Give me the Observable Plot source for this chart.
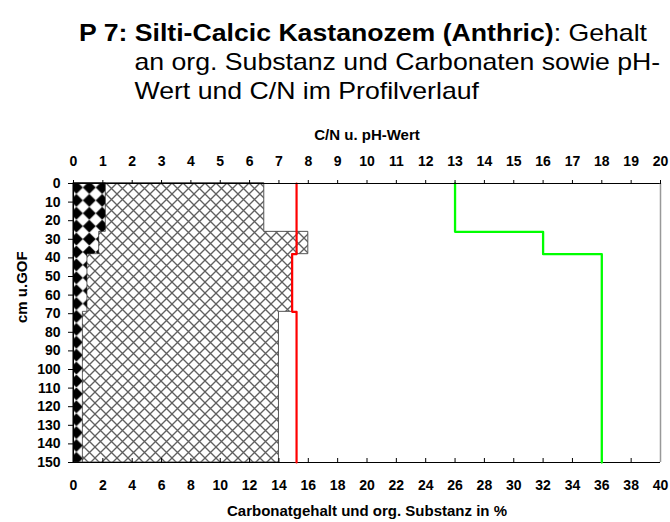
<!DOCTYPE html>
<html><head><meta charset="utf-8">
<script src="https://cdn.jsdelivr.net/npm/d3@7"></script>
<script src="https://cdn.jsdelivr.net/npm/@observablehq/plot@0.6"></script>
<style>
body{margin:0;background:#fff;}
#wrap{position:relative;width:670px;height:522px;overflow:hidden;font-family:"Liberation Sans",Arial,sans-serif;}
#title{position:absolute;left:79px;top:18px;transform:scaleX(1.11);transform-origin:0 0;font-size:24px;line-height:29px;white-space:nowrap;color:#000;}
#title .ind{padding-left:50px}
.layer{position:absolute;left:0;top:120px;}
</style></head><body>
<div id="wrap">
<div id="title"><div><b>P 7: Silti-Calcic Kastanozem (Anthric)</b>: Gehalt</div><div class="ind">an org. Substanz und Carbonaten sowie pH-</div><div class="ind">Wert und C/N im Profilverlauf</div></div>
<svg width="0" height="0" style="position:absolute;left:0;top:0"><defs>
<pattern id="cross" patternUnits="userSpaceOnUse" width="11" height="11" x="73" y="63">
<rect width="11" height="11" fill="#fff"/>
<path d="M-1,-1L12,12M12,-1L-1,12" stroke="#606060" stroke-width="1.35" fill="none"/>
</pattern>
<pattern id="diamond" patternUnits="userSpaceOnUse" width="12.9" height="12.9" x="76.4" y="67.5">
<rect width="12.9" height="12.9" fill="#000"/>
<path d="M6.45,0L12.9,6.45L6.45,12.9L0,6.45Z" fill="#fff"/>
</pattern>
</defs></svg>
<div id="bottom" class="layer"></div>
<div id="top" class="layer"></div>
</div>
<script>
// Horizons (cm u. GOF)
const horizonTop = [0, 26, 38, 69];
const horizonBottom = [26, 38, 69, 150];
// Carbonatgehalt + org. Substanz (outer edge of hatched area), %
const carbonat = [13.0, 16.0, 14.9, 14.0];
// org. Substanz, %
const orgSubstanz = [2.2, 1.75, 0.95, 0.64];
// pH-Wert
const pH = [7.6, 7.6, 7.45, 7.6];
// C/N
const cn = [13, 16, 18, 18];
// tick labels
const depthTicks = [0,10,20,30,40,50,60,70,80,90,100,110,120,130,140,150];
const percentTicks = [0,2,4,6,8,10,12,14,16,18,20,22,24,26,28,30,32,34,36,38,40];
const topTicks = [0,1,2,3,4,5,6,7,8,9,10,11,12,13,14,15,16,17,18,19,20];
const labelTop = "C/N u. pH-Wert";
const labelBottom = "Carbonatgehalt und org. Substanz in %";
const labelY = "cm u.GOF";

function steps(values) {
  const out = [];
  values.forEach((v, i) => { out.push({x: v, y: horizonTop[i]}, {x: v, y: horizonBottom[i]}); });
  return out;
}

const W = 670, H = 402;
const M = {marginTop: 63, marginBottom: 60, marginLeft: 73, marginRight: 10};
const font = {fontFamily: "Liberation Sans, Arial, sans-serif", fontSize: "14px", background: "transparent", color: "#000"};

const yScale = {domain: [depthTicks[0], depthTicks[depthTicks.length - 1]], reverse: true};

const bottomPlot = Plot.plot({
  width: W, height: H, ...M, style: font,
  x: {domain: [percentTicks[0], percentTicks[percentTicks.length - 1]]},
  y: yScale,
  marks: [
    Plot.areaX(steps(carbonat), {x1: d => 0, x2: "x", y: "y", fill: "url(#cross)", stroke: "#555", strokeWidth: 1}),
    Plot.areaX(steps(orgSubstanz), {x1: d => 0, x2: "x", y: "y", fill: "url(#diamond)", stroke: "#222", strokeWidth: 0.7}),
    Plot.ruleX([percentTicks[0]], {stroke: "#000"}),
    Plot.ruleY([depthTicks[depthTicks.length - 1]], {stroke: "#000"}),
    Plot.axisY(depthTicks, {anchor: "left", tickSize: 5, tickPadding: 8, fontSize: 14, fontWeight: "bold", label: null}),
    Plot.axisX(percentTicks, {anchor: "bottom", tickSize: -4, tickPadding: 22, fontSize: 14, fontWeight: "bold", label: null}),
    Plot.text([labelBottom], {frameAnchor: "bottom", dy: 53, lineAnchor: "bottom", fontSize: 15, fontWeight: "bold"}),
    Plot.text([labelY], {frameAnchor: "left", dx: -51, rotate: -90, lineAnchor: "middle", fontSize: 15, fontWeight: "bold"})
  ]
});

const topPlot = Plot.plot({
  width: W, height: H, ...M, style: font,
  x: {domain: [topTicks[0], topTicks[topTicks.length - 1]]},
  y: {...yScale, axis: null},
  marks: [
    Plot.line(steps(pH), {x: "x", y: "y", stroke: "#ff0000", strokeWidth: 2.2}),
    Plot.line(steps(cn), {x: "x", y: "y", stroke: "#00ff00", strokeWidth: 2.3}),
    Plot.ruleY([depthTicks[0]], {stroke: "#000"}),
    Plot.ruleX([topTicks[topTicks.length - 1]], {stroke: "#999", strokeWidth: 1.5}),
    Plot.axisX(topTicks, {anchor: "top", tickSize: 4, tickPadding: 13.5, fontSize: 14, fontWeight: "bold", label: null}),
    Plot.text([labelTop], {frameAnchor: "top", dy: -44, lineAnchor: "bottom", fontSize: 15, fontWeight: "bold"})
  ]
});

document.getElementById("bottom").appendChild(bottomPlot);
document.getElementById("top").appendChild(topPlot);
</script>
</body></html>
